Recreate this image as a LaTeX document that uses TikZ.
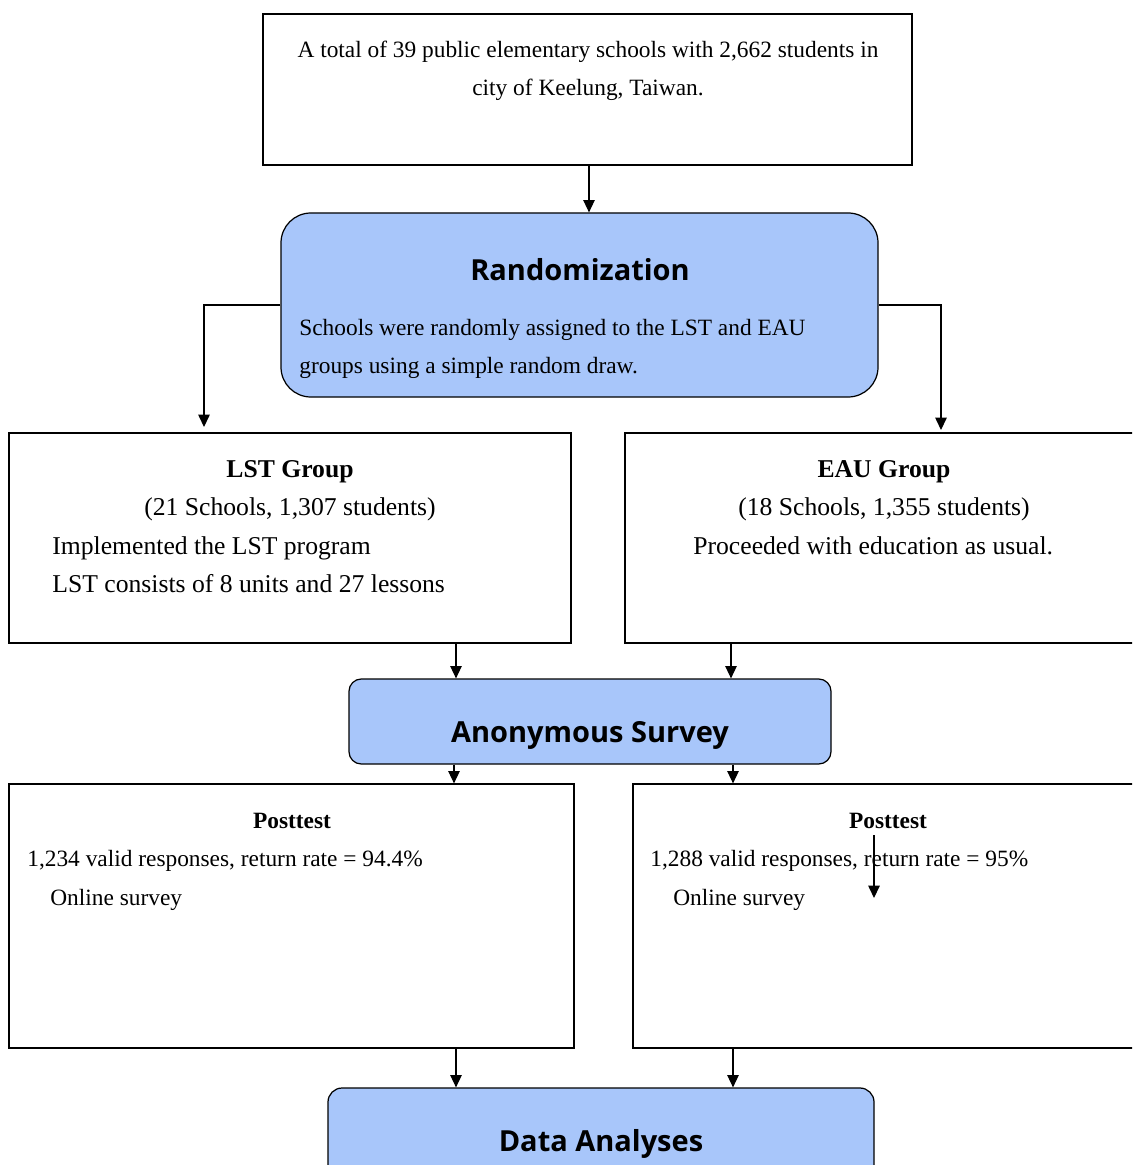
\documentclass[tikz,border=0pt]{standalone}
\usepackage{fontspec}
\setmainfont{Liberation Serif}
\newfontfamily\headfont{Open Sans}
\usetikzlibrary{arrows.meta,fit,positioning}

\definecolor{boxblue}{RGB}{168,198,250}
\tikzset{
  plainbox/.style={draw, line width=0.7pt, inner sep=0pt},
  roundbox/.style={plainbox, fill=boxblue, rounded corners=#1},
  txt/.style={inner sep=0pt, font=\fontsize{13.3}{15}\selectfont, text height=2ex, text depth=0.25ex},
  bigtxt/.style={txt, font=\fontsize{14.6}{17}\selectfont},
  head/.style={inner sep=0pt, font=\headfont\bfseries\fontsize{16.5}{20}\selectfont},
  arr/.style={-{Triangle[length=7pt,width=6.5pt]}, line width=0.7pt},
}

\begin{document}
\begin{tikzpicture}[x=0.02cm,y=-0.02cm]
\useasboundingbox (0,0) rectangle (1132,1165);
\clip (0,0) rectangle (1132,1165);

% boxes
\node[plainbox, fit={(263,14) (912,165)}] (total) {};
\node[roundbox=17pt, fit={(281,213) (878,397)}] (rand) {};
\node[plainbox, fit={(9,433) (571,643)}] (lst) {};
\node[plainbox, fit={(625,433) (1150,643)}] (eau) {};
\node[roundbox=7pt, fit={(349,679) (831,764)}] (survey) {};
\node[plainbox, fit={(9,784) (574,1048)}] (postL) {};
\node[plainbox, fit={(633,784) (1150,1048)}] (postR) {};
\node[roundbox=8pt, fit={(328,1088) (874,1190)}] (data) {};

% texts
\node[txt] (totalA) at (588,50) {A total of 39 public elementary schools with 2,662 students in};
\node[txt] (totalB) at (588,88) {city of Keelung, Taiwan.};
\node[head] (randT) at (580,270) {Randomization};
\node[txt, anchor=west] (randA) at (299,328) {Schools were randomly assigned to the LST and EAU};
\node[txt, anchor=west] (randB) at (299,366) {groups using a simple random draw.};

\node[bigtxt] (lstT) at (290,470) {\bfseries LST Group};
\node[bigtxt] (lstA) at (290,508) {(21 Schools, 1,307 students)};
\node[bigtxt, anchor=west] (lstB) at (52,547) {Implemented the LST program};
\node[bigtxt, anchor=west] (lstC) at (52,585) {LST consists of 8 units and 27 lessons};

\node[bigtxt] (eauT) at (884,470) {\bfseries EAU Group};
\node[bigtxt] (eauA) at (884,508) {(18 Schools, 1,355 students)};
\node[bigtxt, anchor=west] (eauB) at (693,547) {Proceeded with education as usual.};

\node[head] (surveyT) at (590,735) {Anonymous Survey};

\node[txt] (postLT) at (292,821) {\bfseries Posttest};
\node[txt, anchor=west] (postLA) at (27,859) {1,234 valid responses, return rate = 94.4\%};
\node[txt, anchor=west] (postLB) at (50,898) {Online survey};

\node[txt] (postRT) at (888,821) {\bfseries Posttest};
\node[txt, anchor=west] (postRA) at (650,859) {1,288 valid responses, return rate = 95\%};
\node[txt, anchor=west] (postRB) at (673,898) {Online survey};

\node[head] (dataT) at (601,1144) {Data Analyses};

% connectors
\coordinate (lstIn) at (204,427);
\coordinate (eauIn) at (941,430);
\coordinate (strayA) at (874,835);
\coordinate (strayB) at (874,898);

\draw[arr] (total.south -| 589,0) -- (rand.north -| 589,0);
\draw[arr] (rand.west) -| (lstIn);
\draw[arr] (rand.east) -| (eauIn);
\draw[arr] (lst.south -| 456,0) -- (survey.north -| 456,0);
\draw[arr] (eau.south -| 731,0) -- (survey.north -| 731,0);
\draw[arr] (survey.south -| 454,0) -- (postL.north -| 454,0);
\draw[arr] (survey.south -| 733,0) -- (postR.north -| 733,0);
\draw[arr] (strayA) -- (strayB);
\draw[arr] (postL.south -| 456,0) -- (data.north -| 456,0);
\draw[arr] (postR.south -| 733,0) -- (data.north -| 733,0);
\end{tikzpicture}
\end{document}
